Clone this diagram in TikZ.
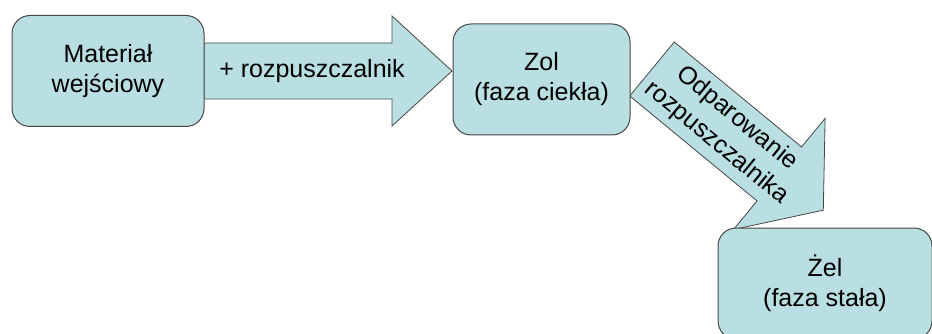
\documentclass[tikz,border=0pt]{standalone}
\usepackage{fontspec}
\setmainfont{Liberation Sans}
\definecolor{boxfill}{RGB}{185,223,226}
\definecolor{boxline}{RGB}{70,70,70}
\begin{document}
\begin{tikzpicture}[x=1pt,y=-1pt,
  box/.style={draw=boxline, fill=boxfill, line width=1pt, rounded corners=18pt,
    align=center, inner sep=0pt, font=\fontsize{25}{30}\selectfont},
  blockarrow/.style={draw=boxline, fill=boxfill, line width=0.8pt, line join=miter},
  lbl/.style={align=center, inner sep=0pt, font=\fontsize{25}{30}\selectfont}]
\useasboundingbox (0,0) rectangle (932,334);
\clip (0,0) rectangle (932,334);
% arrow 1
\draw[blockarrow] (204,43) -- (392,43) -- (392,16) -- (452,71) -- (392,126) -- (392,99) -- (204,99) -- cycle;
\node[lbl] (l1) at (312,71) {+ rozpuszczalnik};
% diagonal arrow
\begin{scope}[shift={(652,69)}, rotate=-39.5]
\draw[blockarrow] (0,-35) -- (165,-35) -- (165,-72) -- (222,0) -- (165,72) -- (165,35) -- (0,35) -- cycle;
\node[lbl, transform shape, font=\fontsize{25}{32}\selectfont] (l2) at (97,0) {Odparowanie\\rozpuszczalnika};
\end{scope}
% boxes
\node[box, minimum width=192pt, minimum height=111pt] (m) at (108,71) {Materiał\\wejściowy};
\node[box, minimum width=177pt, minimum height=111pt] (z) at (541.5,79.5) {Zol\\(faza ciekła)};
\node[box, minimum width=214pt, minimum height=111pt] (g) at (825,283.5) {Żel\\(faza stała)};
\end{tikzpicture}
\end{document}
